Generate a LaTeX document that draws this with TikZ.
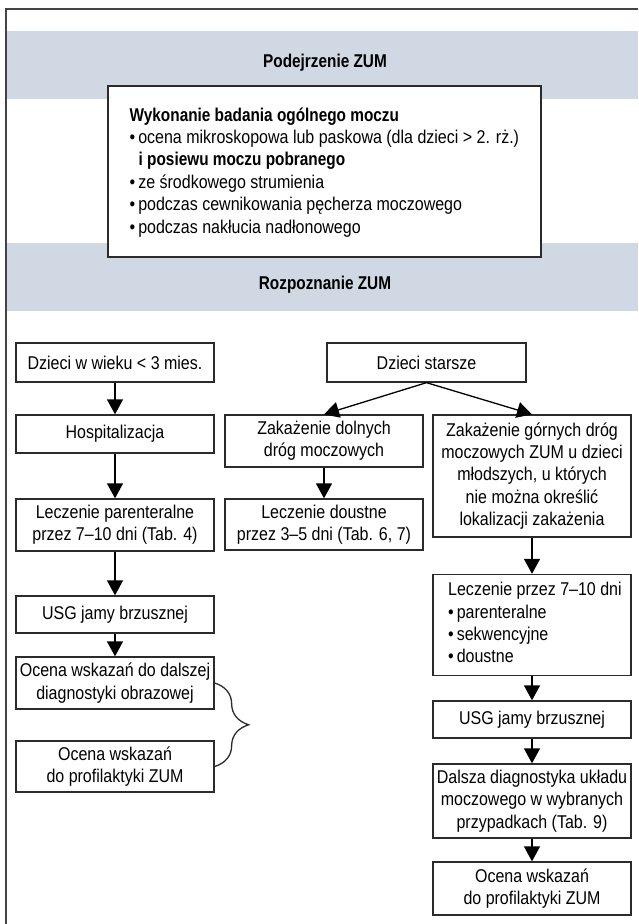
\documentclass[tikz,border=0pt]{standalone}
\usepackage{fontspec}
\setmainfont{Liberation Sans}[FakeStretch=0.865,BoldFeatures={FakeStretch=0.83}]
\usetikzlibrary{arrows.meta,decorations.pathreplacing}
\definecolor{bandc}{HTML}{D0D8E4}
\definecolor{linec}{HTML}{2B2B2B}
\definecolor{framec}{HTML}{444444}
\newcommand{\fs}{\fontsize{18.5}{22.4}\selectfont}
\newcommand{\bul}{\textbullet\kern3pt}
\begin{document}
\begin{tikzpicture}[x=1pt,y=-1pt,
  box/.style={draw=linec, line width=1.3pt, fill=white, minimum width=198pt, inner sep=0pt, align=center, font=\fs},
  txt/.style={inner sep=0pt, font=\fs},
  arr/.style={draw=black, line width=1.3pt, -{Triangle[width=16pt,length=15pt]}},
  ]
\useasboundingbox (0,0) rectangle (638,924);
% bands
\fill[bandc] (7,31) rectangle (638,99);
\fill[bandc] (7,243) rectangle (638,311);
\draw[framec, line width=1.8pt] (638,9) -- (6,9) -- (6,924);
\node[txt, font=\fs\bfseries, anchor=base] (t1) at (325,67) {Podejrzenie ZUM};
\node[txt, font=\fs\bfseries, anchor=base] (t2) at (325,289) {Rozpoznanie ZUM};
% top box
\node[draw=linec, line width=1.3pt, fill=white, minimum width=433pt, minimum height=171pt, inner sep=0pt] (b0) at (324.5,171.5) {};
\node[txt, anchor=base west] (l1) at (129.5,121) {\bfseries Wykonanie badania ogólnego moczu};
\node[txt, anchor=base west] (l2) at (129.5,143.4) {\bul ocena mikroskopowa lub paskowa (dla dzieci > 2. rż.)};
\node[txt, anchor=base west] (l3) at (138.5,165.8) {\bfseries i posiewu moczu pobranego};
\node[txt, anchor=base west] (l4) at (129.5,188.2) {\bul ze środkowego strumienia};
\node[txt, anchor=base west] (l5) at (129.5,210.6) {\bul podczas cewnikowania pęcherza moczowego};
\node[txt, anchor=base west] (l6) at (129.5,233) {\bul podczas nakłucia nadłonowego};
% left column
\node[box, minimum height=39pt] (A1) at (115,362.5) {Dzieci w wieku < 3 mies.};
\node[box, minimum height=38pt] (A2) at (115,434) {Hospitalizacja};
\node[box, minimum height=52pt] (A3) at (115,525) {Leczenie parenteralne\\przez 7–10 dni (Tab. 4)};
\node[box, minimum height=37pt] (A4) at (115,614.5) {USG jamy brzusznej};
\node[box, minimum height=52pt] (A5) at (115,683) {Ocena wskazań do dalszej\\diagnostyki obrazowej};
\node[box, minimum height=51pt] (A6) at (115,766.5) {Ocena wskazań\\do profilaktyki ZUM};
% middle
\node[box, minimum width=199pt, minimum height=39pt] (B1) at (426.5,362.5) {Dzieci starsze};
\node[box, minimum height=52pt] (B2) at (324,441) {Zakażenie dolnych\\dróg moczowych};
\node[box, minimum height=51pt] (B4) at (324,524.5) {Leczenie doustne\\przez 3–5 dni (Tab. 6, 7)};
% right
\node[box, minimum height=122pt] (B3) at (532,476) {Zakażenie górnych dróg\\moczowych ZUM u dzieci\\młodszych, u których\\nie można określić\\lokalizacji zakażenia};
\node[box, minimum height=101pt] (C1) at (532,625) {};
\node[txt, anchor=west, align=left] (C1t) at (448,626) {Leczenie przez 7–10 dni\\\bul parenteralne\\\bul sekwencyjne\\\bul doustne\strut};
\node[box, minimum height=37pt] (C2) at (532,719.5) {USG jamy brzusznej};
\node[box, minimum height=74pt] (C3) at (532,801) {Dalsza diagnostyka układu\\moczowego w wybranych\\przypadkach (Tab. 9)};
\node[box, minimum height=53pt] (C4) at (532,888.5) {Ocena wskazań\\do profilaktyki ZUM};
% arrows
\draw[arr] (A1) -- (A2);
\draw[arr] (A2) -- (A3);
\draw[arr] (A3) -- (A4);
\draw[arr] (A4) -- (A5);
\draw[arr] (B1.south) -- (B2.north);
\draw[arr] (B1.south) -- (B3.north);
\draw[arr] (B2) -- (B4);
\draw[arr] (B3) -- (C1);
\draw[arr] (C1) -- (C2);
\draw[arr] (C2) -- (C3);
\draw[arr] (C3) -- (C4);
% brace
\draw[linec, line width=1.3pt, decorate, decoration={brace, amplitude=34pt}] (A5.east) -- (A6.east);
\end{tikzpicture}
\end{document}
